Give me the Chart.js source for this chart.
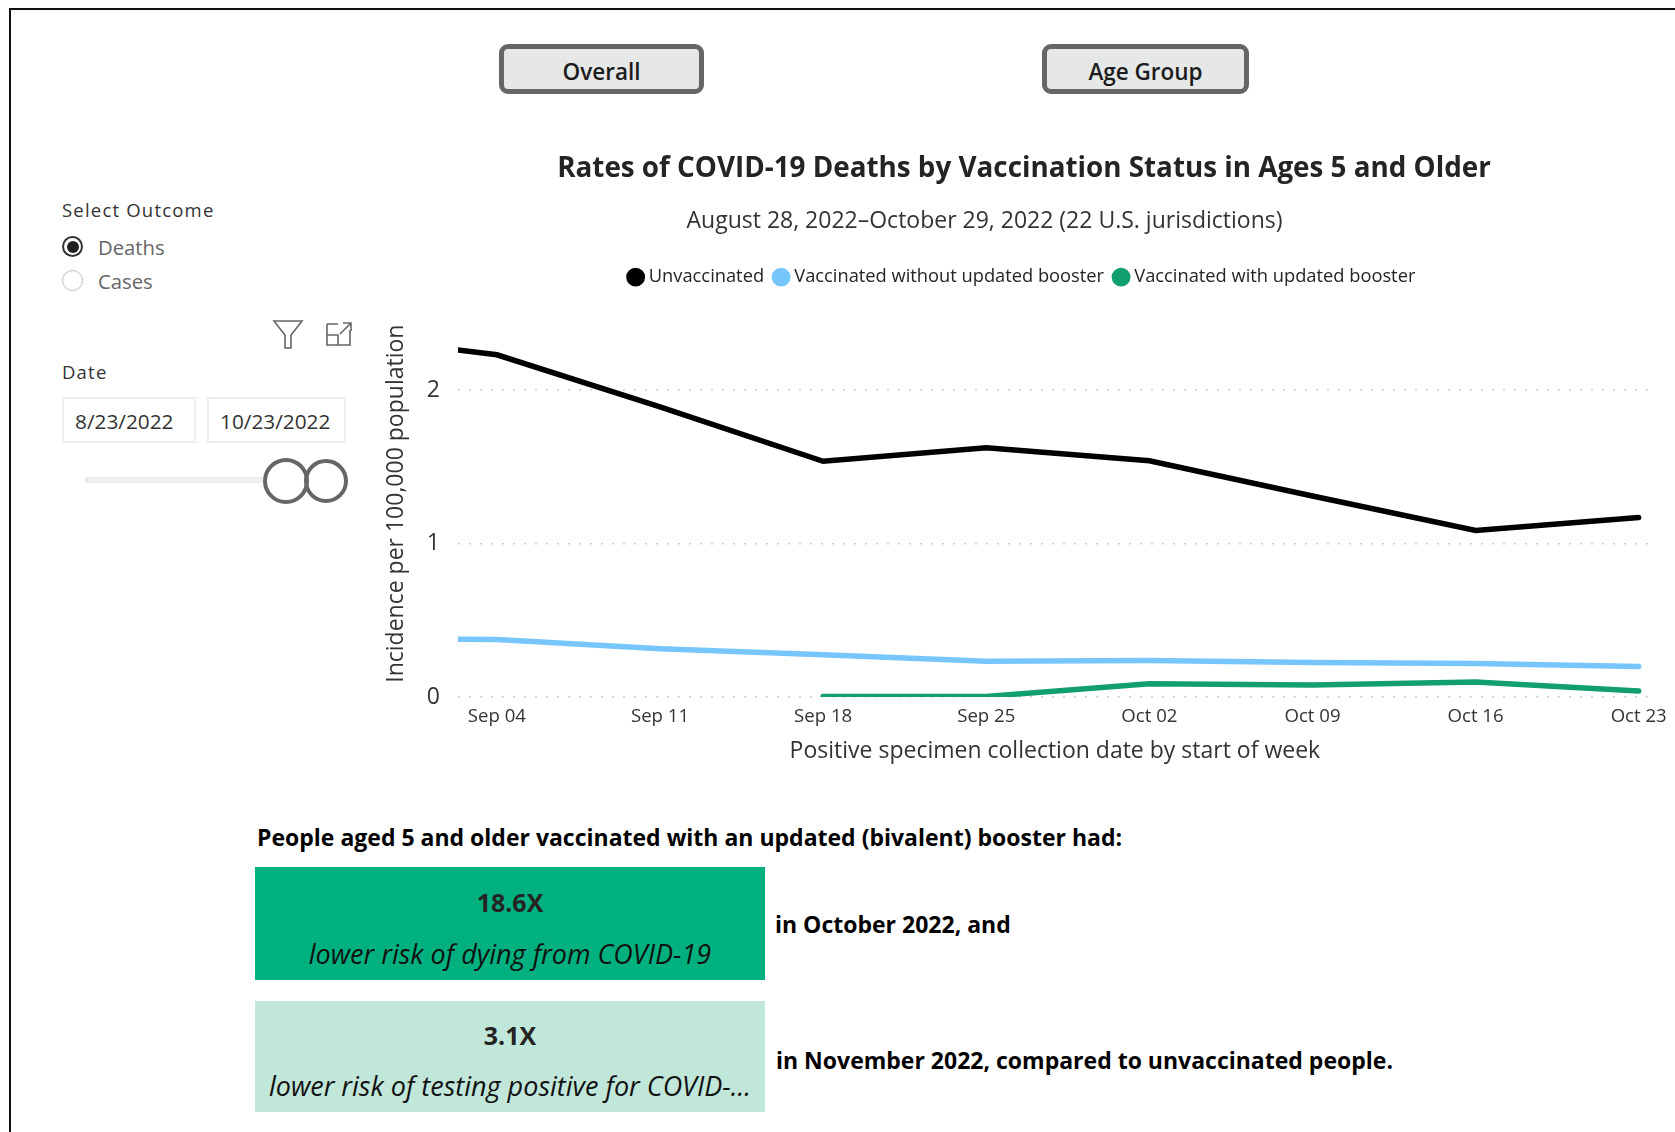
<!DOCTYPE html>
<html>
<head>
<meta charset="utf-8">
<script src="https://cdn.jsdelivr.net/npm/chart.js@4"></script>
<style>
html, body { margin: 0; padding: 0; background: #fff; }
body { width: 1675px; height: 1132px; overflow: hidden; position: relative; font-family: "Open Sans", sans-serif; color: #252423; }
.frame { position: absolute; left: 9px; top: 8px; width: 1800px; height: 1300px; border: 2px solid #111; }
.abs { position: absolute; white-space: nowrap; }
.btn { position: absolute; top: 44px; height: 50px; box-sizing: border-box; border: 5px solid #666; border-radius: 9px; background: #e6e7e7; font-size: 22.5px; font-weight: 600; text-align: center; line-height: 46px; color: #1c1c1c; }
.label { font-size: 18.5px; letter-spacing: 1.2px; color: #333; transform: translateY(-50%); }
.opt { font-size: 20.3px; color: #666; transform: translateY(-50%); }
.radio { position: absolute; box-sizing: border-box; width: 21px; height: 21px; border-radius: 50%; border: 1.5px solid #bbb; background: #fff; }
.radio.on { border: 2px solid #333; }
.radio.on::after { content: ""; position: absolute; left: 2.5px; top: 2.5px; width: 12px; height: 12px; border-radius: 50%; background: #222; }
.date { position: absolute; top: 397px; height: 46px; box-sizing: border-box; border: 2px solid #eee; font-size: 20.8px; line-height: 44px; padding-left: 11px; color: #333; }
.track { position: absolute; left: 85px; top: 477px; width: 180px; height: 6px; background: #eee; }
.knob { position: absolute; box-sizing: border-box; border: 4px solid #666; border-radius: 50%; }
canvas { position: absolute; left: 375px; top: 135px; }
.heading { font-size: 23px; font-weight: 700; color: #000; transform: translateY(-50%); }
.tile { position: absolute; left: 255px; width: 510px; }
.tile .big { position: absolute; left: 0; right: 0; text-align: center; font-size: 25px; font-weight: 700; color: #252423; transform: translateY(-50%); }
.tile .small { position: absolute; left: 0; right: 0; text-align: center; font-size: 27px; font-style: italic; color: #111; white-space: nowrap; transform: translateY(-50%); }
</style>
</head>
<body>
<div class="frame"></div>

<div class="btn" style="left:499px;width:205px">Overall</div>
<div class="btn" style="left:1042px;width:207px">Age Group</div>

<div class="abs label" style="left:62px;top:209px">Select Outcome</div>
<div class="radio on" style="left:62px;top:236px"></div>
<div class="abs opt" style="left:98px;top:247px">Deaths</div>
<div class="radio" style="left:62px;top:270px"></div>
<div class="abs opt" style="left:98px;top:281px">Cases</div>

<svg class="abs" style="left:270px;top:316px" width="90" height="36" fill="none" stroke="#666" stroke-width="1.6">
  <path d="M4 5 H32 L21 19 V32 H15 V19 Z"/>
  <path d="M57 8 V29 H80 V14 M57 19 H68 V29 M68 8 H57 M70 18 L80 8 M73 7 H81 V15"/>
</svg>

<div class="abs label" style="left:62px;top:371px">Date</div>
<div class="date" style="left:62px;width:134px">8/23/2022</div>
<div class="date" style="left:207px;width:139px">10/23/2022</div>
<div class="track"></div>
<div class="knob" style="left:263px;top:458px;width:46px;height:46px"></div>
<div class="knob" style="left:304px;top:459px;width:44px;height:44px"></div>

<canvas id="deathRates" width="1300" height="630"></canvas>

<div class="abs heading" style="left:257px;top:837px">People aged 5 and older vaccinated with an updated (bivalent) booster had:</div>

<div class="tile" style="top:867px;height:113px;background:#00b17f">
  <div class="big" style="top:35px">18.6X</div>
  <div class="small" style="top:86px">lower risk of dying from COVID-19</div>
</div>
<div class="abs heading" style="left:775px;top:924px">in October 2022, and</div>

<div class="tile" style="top:1001px;height:111px;background:#c1e7da">
  <div class="big" style="top:34px">3.1X</div>
  <div class="small" style="top:84px">lower risk of testing positive for COVID-...</div>
</div>
<div class="abs heading" style="left:776px;top:1060px">in November 2022, compared to unvaccinated people.</div>

<script>
// days counted from Sep 04, one entry per reporting week
const weekDays = [-7, 0, 7, 14, 21, 28, 35, 42, 49]
const tickDays = [0, 7, 14, 21, 28, 35, 42, 49]
const tickLabels = ["Sep 04", "Sep 11", "Sep 18", "Sep 25", "Oct 02", "Oct 09", "Oct 16", "Oct 23"]
const yTicks = [0, 1, 2]

const unvaccinated = [2.36, 2.23, 1.89, 1.536, 1.624, 1.54, 1.31, 1.085, 1.17]
const withoutBooster = [0.38, 0.375, 0.315, 0.276, 0.234, 0.238, 0.225, 0.219, 0.199]
const withBooster = [null, null, null, 0.004, 0.004, 0.087, 0.079, 0.098, 0.04]

const titleText = 'Rates of COVID-19 Deaths by Vaccination Status in Ages 5 and Older'
const subtitleText = 'August 28, 2022–October 29, 2022 (22 U.S. jurisdictions)'

const uiFont = "'Open Sans', sans-serif"

function toPoints(values) {
    return values.map((v, i) => ({ x: weekDays[i], y: v }))
}

function lineSet(label, values, color) {
    return {
        label: label,
        data: toPoints(values),
        borderColor: color,
        backgroundColor: color,
        borderWidth: 5.5,
        borderCapStyle: 'round',
        borderJoinStyle: 'miter',
        pointRadius: 0,
        tension: 0
    }
}

// extra room under the legend, the library has no option for it
const legendGap = {
    id: 'legendGap',
    beforeInit(chart) {
        const fit = chart.legend.fit
        chart.legend.fit = function () {
            fit.call(this)
            this.height += 14
        }
    }
}

// title, subtitle and legend are not quite centred on each other
const headerShift = {
    id: 'headerShift',
    afterLayout(chart) {
        for (const box of chart.boxes) {
            let dx = 0
            if (box === chart.legend) dx = 6
            else if (box.options && box.options.text === titleText) dx = 6.5
            else if (box.options && box.options.text === subtitleText) dx = -33
            box.left += dx
            box.right += dx
        }
    }
}

new Chart(document.getElementById("deathRates"), {
    type: 'line',
    plugins: [legendGap, headerShift],
    data: {
        datasets: [
            lineSet('Unvaccinated', unvaccinated, '#000000'),
            lineSet('Vaccinated without updated booster', withoutBooster, '#76c6fb'),
            lineSet('Vaccinated with updated booster', withBooster, '#119f6f')
        ]
    },
    options: {
        responsive: false,
        animation: false,
        layout: { padding: { left: 8, right: 23, top: 17, bottom: 0 } },
        plugins: {
            tooltip: { enabled: false },
            title: {
                display: true,
                text: titleText,
                color: '#252423',
                font: { family: uiFont, size: 27.8, weight: 'bold' },
                padding: { top: 0, bottom: 22 }
            },
            subtitle: {
                display: true,
                text: subtitleText,
                color: '#333333',
                font: { family: uiFont, size: 23 },
                padding: { top: 0, bottom: 20 }
            },
            legend: {
                display: true,
                position: 'top',
                labels: {
                    usePointStyle: true,
                    pointStyle: 'circle',
                    boxWidth: 8,
                    boxHeight: 9.5,
                    padding: 13,
                    color: '#252423',
                    font: { family: uiFont, size: 18.3 }
                }
            }
        },
        scales: {
            x: {
                type: 'linear',
                min: -1.67,
                max: 49.56,
                grid: { display: false, drawTicks: false },
                border: { display: false },
                afterBuildTicks: (axis) => { axis.ticks = tickDays.map(v => ({ value: v })) },
                ticks: {
                    autoSkip: false,
                    maxRotation: 0,
                    padding: 8,
                    color: '#333333',
                    font: { family: uiFont, size: 18.6 },
                    callback: (v) => tickLabels[tickDays.indexOf(v)]
                },
                title: {
                    display: true,
                    text: 'Positive specimen collection date by start of week',
                    color: '#333333',
                    font: { family: uiFont, size: 23 },
                    padding: { top: 2, bottom: 0 }
                }
            },
            y: {
                min: 0,
                max: 2.52,
                afterFit: (axis) => { axis.width = 75 },
                afterBuildTicks: (axis) => { axis.ticks = yTicks.map(v => ({ value: v })) },
                grid: {
                    drawTicks: false,
                    color: '#cccccc',
                    lineWidth: 1.5
                },
                border: { display: false, dash: [2, 9] },
                ticks: {
                    padding: 18,
                    color: '#333333',
                    font: { family: uiFont, size: 23 }
                },
                title: {
                    display: true,
                    text: 'Incidence per 100,000 population',
                    color: '#333333',
                    font: { family: uiFont, size: 23 },
                    padding: { top: 0, bottom: 6 }
                }
            }
        }
    }
})
</script>
</body>
</html>
